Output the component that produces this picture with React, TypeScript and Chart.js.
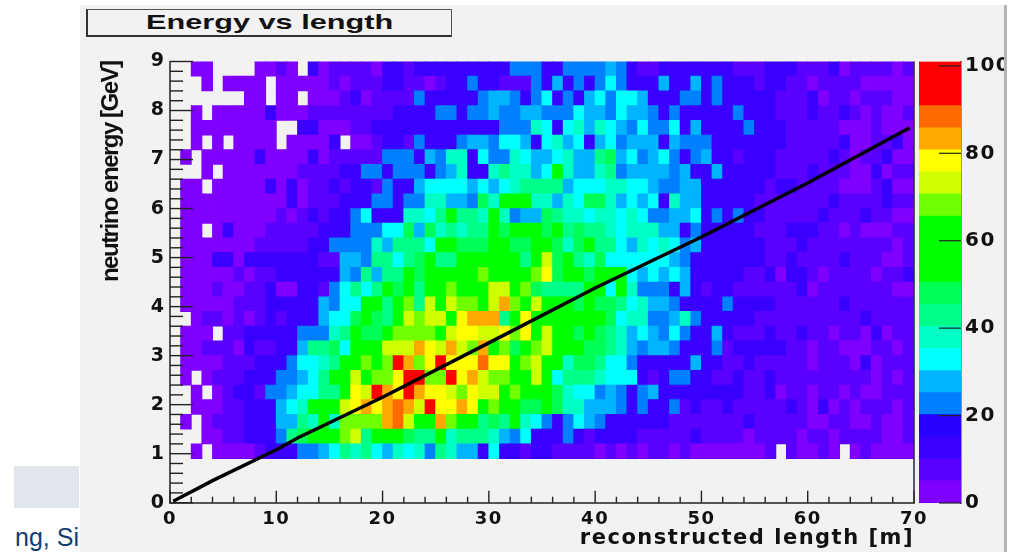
import React, { useEffect, useRef } from "react";
import { Chart, registerables } from "chart.js";

Chart.register(...registerables);

// Counts per energy bin, top row (8.7-9.0 GeV) first. 0 = empty cell. One value per 1 m length bin.
const row00 = [0,0,3,3,0,0,0,0,3,3, 7,3,0,12,3,7,7,7,7,3, 12,12,7,12,12,12,12,12,12,12, 12,12,22,22,22,12,12,22,22,22, 22,27,22,12,7,7,12,12,12,12, 12,12,12,7,7,7,12,12,12,7, 7,7,12,3,7,7,7,7,3,7];
const row01 = [0,0,0,3,0,3,3,3,3,0, 3,3,3,3,3,7,3,7,7,7, 12,12,7,7,3,7,12,12,22,12, 12,7,7,7,22,12,27,12,22,12, 22,32,22,12,12,12,27,12,12,27, 12,22,12,12,12,7,12,12,7,7, 3,7,7,7,7,3,3,3,3,3];
const row02 = [0,0,0,0,0,0,0,3,3,0, 3,3,0,3,3,3,7,12,3,7, 7,7,7,22,12,12,12,12,12,22, 27,27,22,12,22,32,12,22,12,27, 32,22,32,32,27,12,12,12,22,22, 12,22,12,12,12,12,12,7,7,7, 12,3,7,7,3,7,7,7,3,3];
const row03 = [0,0,3,0,3,3,3,3,3,12, 3,3,3,7,7,7,7,7,7,7, 7,12,12,12,12,22,22,12,22,22, 27,22,22,27,27,22,22,22,32,27, 27,22,32,27,27,22,12,22,12,12, 12,12,12,22,12,12,12,7,7,7, 12,7,7,12,7,3,7,3,3,7];
const row04 = [0,0,3,3,3,3,3,3,3,3, 0,0,12,12,3,3,3,7,7,12, 12,12,12,12,12,12,12,12,12,12, 12,22,22,22,37,32,12,32,37,27, 37,32,27,22,32,22,22,32,12,27, 12,12,12,12,22,12,12,12,7,7, 7,7,7,3,3,3,7,3,3,3];
const row05 = [0,0,3,0,3,0,3,3,3,3, 0,3,3,3,3,12,0,3,3,7, 12,12,7,22,12,12,12,22,27,27, 22,32,32,27,12,32,37,27,32,12, 27,32,22,27,27,27,12,27,22,22, 22,12,12,12,12,12,12,12,7,7, 7,7,7,12,3,3,7,7,12,3];
const row06 = [0,3,0,3,3,3,3,3,12,3, 3,3,3,12,3,7,7,7,7,7, 22,22,22,12,27,22,37,37,12,32, 22,22,37,32,27,27,32,37,27,27, 42,47,27,32,22,27,32,22,12,22, 27,12,12,7,12,12,12,7,7,7, 7,7,12,7,3,7,7,12,3,3];
const row07 = [0,0,0,3,0,3,3,3,3,3, 3,3,7,7,7,7,12,12,22,22, 12,22,22,22,12,22,27,37,12,12, 37,42,37,37,27,32,57,37,27,27, 37,42,22,27,27,27,27,22,27,12, 12,27,12,12,12,12,12,7,7,7, 12,7,7,7,3,3,12,3,7,7];
const row08 = [0,3,3,0,3,3,3,3,3,12, 3,12,3,7,7,12,7,12,12,7, 22,12,12,27,32,32,32,32,27,32, 27,32,37,42,42,42,42,27,32,32, 32,37,37,32,32,27,22,22,27,27, 12,12,12,12,12,12,7,12,12,7, 7,7,7,3,3,3,7,12,3,3];
const row09 = [0,3,3,3,3,3,3,3,3,3, 3,12,3,7,7,7,12,12,12,22, 22,12,22,22,37,37,27,27,22,47, 37,57,57,57,37,37,27,37,32,47, 47,37,27,32,27,32,12,37,27,27, 12,12,12,12,12,7,7,7,7,7, 7,7,12,7,7,7,7,12,7,7];
const row10 = [0,3,3,3,3,3,3,3,3,3, 7,3,7,12,7,12,12,22,32,12, 12,12,37,37,32,42,57,42,42,37, 57,37,22,27,27,47,42,37,37,32, 37,37,32,37,32,22,22,27,27,32, 12,22,12,22,12,12,7,7,7,7, 7,12,7,7,7,12,7,7,3,3];
const row11 = [0,3,3,0,3,12,3,3,3,7, 7,7,7,7,12,12,12,22,22,22, 32,32,47,27,47,37,42,37,42,42, 57,47,57,57,57,47,57,42,47,42, 42,37,32,37,37,37,27,27,12,22, 12,12,12,12,12,7,7,7,12,12, 12,7,7,3,7,3,3,3,7,7];
const row12 = [0,3,3,3,3,3,3,3,7,7, 7,7,7,12,12,22,22,22,22,37, 27,42,42,42,32,57,57,47,47,47, 57,57,47,47,57,57,47,37,47,57, 42,42,32,27,37,32,37,32,22,27, 12,12,12,12,12,12,7,7,7,12, 7,7,7,7,7,7,7,7,3,7];
const row13 = [0,3,3,3,12,12,3,12,12,12, 12,12,12,12,7,7,27,27,22,42, 42,32,42,47,57,42,42,57,57,57, 57,57,57,42,57,72,47,57,42,37, 47,32,32,32,32,32,32,27,22,12, 12,12,12,12,12,12,7,7,12,7, 7,7,7,12,7,7,7,3,3,7];
const row14 = [0,3,3,3,3,3,7,3,7,7, 12,12,12,12,12,12,27,22,42,27, 42,42,57,47,57,57,57,57,57,67, 57,57,57,57,67,77,47,57,57,47, 57,57,57,32,27,32,27,32,27,12, 12,12,12,12,7,7,12,3,12,12, 7,3,7,7,7,7,3,7,7,12];
const row15 = [0,3,3,3,7,3,3,7,7,12, 3,3,12,12,7,22,32,42,32,42, 57,47,57,42,57,57,67,57,57,57, 72,72,57,67,47,42,42,42,42,57, 57,32,57,37,22,22,22,12,27,12, 7,12,12,7,7,7,7,7,7,12, 3,7,7,7,7,7,7,7,3,3];
const row16 = [0,3,3,3,3,3,7,7,7,12, 12,12,12,12,27,22,32,32,57,57, 42,57,67,42,72,57,72,67,67,57, 72,82,67,57,72,57,57,57,47,57, 47,47,42,32,37,27,27,22,12,12, 12,12,22,12,12,12,12,7,7,7, 7,7,7,12,7,7,7,7,7,7];
const row17 = [0,0,3,7,7,3,7,3,7,12, 7,12,12,12,27,32,32,47,57,47, 42,57,72,67,72,72,57,77,82,82, 82,42,57,77,57,57,57,57,57,57, 57,47,32,37,37,22,22,27,37,22, 12,12,12,12,12,7,7,7,7,7, 7,7,7,7,7,12,7,7,7,7];
const row18 = [0,3,3,3,0,7,7,12,12,12, 12,12,22,22,22,37,42,57,47,47, 57,67,67,67,67,57,72,77,77,72, 72,77,67,77,57,72,57,57,47,57, 47,42,37,27,32,27,22,32,22,12, 12,27,12,7,7,7,12,7,7,12, 7,7,3,7,7,3,12,3,7,7];
const row19 = [0,3,3,7,7,7,3,12,7,7, 12,12,27,42,42,47,32,57,57,57, 72,72,72,82,77,72,82,72,67,82, 57,67,47,57,67,72,57,57,57,47, 47,42,37,27,22,27,27,22,12,12, 12,22,7,12,12,12,12,12,7,7, 3,7,7,3,3,3,7,7,3,7];
const row20 = [0,3,3,3,3,7,7,7,12,12, 12,22,32,32,37,42,57,57,67,57, 67,95,82,67,77,95,77,77,77,87, 77,77,57,67,72,57,57,37,47,47, 42,32,32,22,12,12,12,12,12,27, 12,12,7,7,12,7,7,7,7,7, 3,7,7,7,3,12,3,7,7,7];
const row21 = [0,3,0,3,7,7,7,12,12,12, 22,22,27,32,42,57,57,72,57,67, 67,77,95,95,67,67,95,77,82,72, 67,67,57,57,72,57,32,42,42,42, 37,32,32,32,12,7,12,22,22,12, 12,7,7,12,7,7,12,7,7,7, 7,7,7,7,7,7,3,7,3,7];
const row22 = [0,0,3,0,3,7,12,12,7,22, 22,27,32,32,42,42,57,77,72,95, 82,77,95,82,77,77,72,67,77,72, 72,57,67,57,57,57,47,37,32,32, 22,27,22,12,22,27,12,12,12,12, 12,12,12,12,7,7,12,3,7,7, 3,7,7,3,7,3,3,7,7,7];
const row23 = [0,0,3,3,3,7,7,12,12,12, 27,32,37,57,57,57,72,77,82,77, 82,87,82,72,95,77,77,82,77,57, 67,57,57,47,47,57,47,37,37,27, 27,27,22,12,22,12,12,22,7,12, 7,7,12,7,7,7,7,7,12,7, 3,12,3,7,3,7,7,7,3,7];
const row24 = [0,3,0,3,7,7,7,12,12,12, 27,27,42,37,57,37,67,67,67,67, 82,87,72,57,57,82,67,57,57,42, 47,42,57,37,32,22,12,22,32,27, 22,12,12,12,12,12,12,7,7,7, 7,7,7,7,12,7,7,7,7,7, 3,3,7,7,3,3,7,3,3,7];
const row25 = [0,0,0,3,3,7,7,12,12,12, 22,42,47,57,57,57,67,72,42,57, 57,57,47,42,42,57,37,42,42,42, 37,27,22,32,12,12,12,22,12,7, 12,12,12,12,7,7,7,7,7,12, 7,7,7,7,3,7,7,7,7,3, 7,7,3,7,7,7,7,3,3,7];
const row26 = [0,0,3,0,3,3,3,3,7,12, 12,12,22,22,27,32,42,37,42,32, 27,37,32,37,22,42,37,27,27,12, 32,12,12,7,12,12,7,7,7,7, 3,7,3,7,3,7,7,3,7,3, 3,3,3,3,3,3,7,0,7,3, 3,7,3,0,3,7,3,3,3,3];
const energyRows = [row00,row01,row02,row03,row04,row05,row06,row07,row08,row09,row10,row11,row12,row13,row14,row15,row16,row17,row18,row19,row20,row21,row22,row23,row24,row25,row26];

const fitLength = [0.3, 4.1, 10, 12, 20, 30, 40, 50, 60, 69.6];
const fitEnergy = [0.03, 0.46, 1.08, 1.32, 2.15, 3.26, 4.38, 5.42, 6.52, 7.65];

const paletteColors = ["#8000ff","#5a00ff","#3a00ff","#2800ff","#0080ff","#00b4ff","#00ffff","#00ffc4","#00ff88","#00ff55","#00ff00","#00ff00","#00ff00","#70ff00","#d0ff00","#ffff00","#ffa800","#ff6a00","#ff0000","#ff0000"];
const levelStep = 5.05;
const binEnergyHeight = 0.3;
const zTicks = [0, 20, 40, 60, 80, 100];

const DEJAVU = "'DejaVu Sans', sans-serif";

const noPad = (s: any) => { s.paddingLeft = 0; s.paddingRight = 0; s.paddingTop = 0; s.paddingBottom = 0; };

// The reference's text is stretched sideways: widen it with canvas letter spacing.
const spaced = (s: any, titlePx: number, labelPx: number) => {
  if (s.__spaced) return;
  s.__spaced = true;
  const wrap = (name: string, px: number) => {
    const orig = s[name];
    s[name] = function (...args: any[]) {
      const c = s.ctx;
      c.letterSpacing = px + "px";
      orig.apply(s, args);
      c.letterSpacing = "0px";
    };
  };
  wrap("drawTitle", titlePx);
  wrap("drawLabels", labelPx);
};

const rootTicks = {
  id: "rootTicks",
  afterDatasetsDraw(chart: any) {
    const { ctx, chartArea, scales } = chart;
    ctx.save();
    ctx.strokeStyle = "#222";
    ctx.lineWidth = 1.4;
    for (let i = 0; i <= 45; i++) {
      const y = scales.y.getPixelForValue(i * 0.2);
      const len = i % 5 === 0 ? 23 : 13;
      ctx.beginPath();
      ctx.moveTo(chartArea.left, y);
      ctx.lineTo(chartArea.left + len, y);
      ctx.stroke();
    }
    for (let i = 0; i <= 35; i++) {
      const x = scales.x.getPixelForValue(i * 2);
      const len = i % 5 === 0 ? 12 : 6;
      ctx.beginPath();
      ctx.moveTo(x, chartArea.bottom);
      ctx.lineTo(x, chartArea.bottom - len);
      ctx.stroke();
    }
    ctx.strokeStyle = "#333";
    ctx.lineWidth = 1.6;
    ctx.beginPath();
    ctx.moveTo(chartArea.right, chartArea.top);
    ctx.lineTo(chartArea.right, chartArea.bottom);
    ctx.stroke();
    ctx.restore();
  },
};

const zTicksPlugin = {
  id: "zTicksPlugin",
  afterDatasetsDraw(chart: any) {
    const { ctx, chartArea, scales } = chart;
    ctx.save();
    ctx.strokeStyle = "#222";
    ctx.lineWidth = 1.2;
    zTicks.forEach((t) => {
      const y = scales.y.getPixelForValue(t);
      ctx.beginPath();
      ctx.moveTo(chartArea.right, y);
      ctx.lineTo(chartArea.right - 22, y);
      ctx.stroke();
    });
    ctx.restore();
  },
};

export default function App() {
  const mainRef = useRef<HTMLCanvasElement>(null);
  const barRef = useRef<HTMLCanvasElement>(null);

  useEffect(() => {
    const cells: any[] = [];
    const colors: string[] = [];
    energyRows.forEach((row, r) => {
      const top = 9 - r * binEnergyHeight;
      row.forEach((v, c) => {
        if (v <= 0) return;
        cells.push({ x: c + 0.5, y: [top - binEnergyHeight, top] });
        colors.push(paletteColors[Math.min(19, Math.floor(v / levelStep))]);
      });
    });

    const main = new Chart(mainRef.current!, {
      type: "bar",
      data: {
        datasets: [
          {
            type: "line",
            label: "fit",
            data: fitLength.map((x, i) => ({ x, y: fitEnergy[i] })),
            borderColor: "#000",
            borderWidth: 3.5,
            pointRadius: 0,
            tension: 0,
            order: 0,
          } as any,
          {
            type: "bar",
            label: "Energy vs length",
            data: cells,
            backgroundColor: colors,
            barThickness: 10.7,
            borderWidth: 0,
            inflateAmount: 0.4,
            order: 1,
          } as any,
        ],
      },
      options: {
        responsive: false,
        animation: false,
        events: [],
        layout: { padding: { left: 80, top: 61.5, right: 97, bottom: 0 } },
        plugins: { legend: { display: false }, tooltip: { enabled: false }, title: { display: false } },
        scales: {
          x: {
            type: "linear",
            min: 0,
            max: 70,
            offset: false,
            grid: { display: false, offset: false, drawTicks: false },
            border: { display: true, color: "#555", width: 2 },
            ticks: { stepSize: 10, autoSkip: false, maxRotation: 0, color: "#111", font: { family: DEJAVU, weight: "bold", size: 18 }, padding: 6, includeBounds: false },
            title: {
              display: true,
              text: "reconstructed length [m]",
              align: "end",
              color: "#111",
              font: { family: DEJAVU, weight: "bold", size: 21 },
              padding: { top: 0, bottom: 1 },
            },
            afterFit: (s: any) => { s.height = 49.3; noPad(s); spaced(s, 1.5, 1.5); },
          },
          y: {
            type: "linear",
            min: 0,
            max: 9,
            grid: { display: false, drawTicks: false },
            border: { display: true, color: "#555", width: 2 },
            ticks: { stepSize: 1, autoSkip: false, color: "#111", font: { family: DEJAVU, weight: "bold", size: 19 }, padding: 6, includeBounds: false },
            title: {
              display: true,
              text: "neutrino energy [GeV]",
              align: "end",
              color: "#111",
              font: { family: "'Liberation Sans', sans-serif", weight: "bold", size: 24 },
              padding: { top: 17, bottom: 0 },
            },
            afterFit: (s: any) => { s.width = 90; noPad(s); spaced(s, -1.5, 0); },
          },
        },
      } as any,
      plugins: [rootTicks],
    });

    const bar = new Chart(barRef.current!, {
      type: "bar",
      data: {
        labels: ["z"],
        datasets: paletteColors.map((color, i) => ({
          data: [[i * levelStep, (i + 1) * levelStep]],
          backgroundColor: color,
          borderWidth: 0,
          grouped: false,
          barPercentage: 1,
          categoryPercentage: 1,
        })) as any,
      },
      options: {
        responsive: false,
        animation: false,
        events: [],
        layout: { padding: { left: 4, top: 61.5, right: 0, bottom: 49 } },
        plugins: { legend: { display: false }, tooltip: { enabled: false } },
        scales: {
          x: { display: false },
          y: {
            type: "linear",
            position: "right",
            min: 0,
            max: 101,
            grid: { display: false, drawTicks: false },
            border: { display: true, color: "#333", width: 1.5 },
            ticks: { stepSize: 20, autoSkip: false, color: "#111", font: { family: DEJAVU, weight: "bold", size: 20 }, padding: 4, includeBounds: false },
            afterFit: (s: any) => { s.width = 43; noPad(s); spaced(s, 0, 1.5); },
          },
        },
      } as any,
      plugins: [zTicksPlugin],
    });

    return () => {
      main.destroy();
      bar.destroy();
    };
  }, []);

  return (
    <div style={{ position: "absolute", left: 0, top: 0, width: 1011, height: 552, overflow: "hidden", background: "#fff" }}>
      <div style={{ position: "absolute", left: 14, top: 466, width: 65, height: 42, background: "#e1e5ec" }} />
      <div style={{ position: "absolute", left: 14, top: 521, width: 66, height: 31, overflow: "hidden" }}>
        <div style={{ position: "absolute", right: 1, top: 0, whiteSpace: "nowrap", font: "25px/32px 'Liberation Sans', sans-serif", color: "#123e6e" }}>ng, Si</div>
      </div>
      <div style={{ position: "absolute", left: 80, top: 5, width: 924, height: 547, background: "#f2f2f2", borderRight: "3px solid #b4b4b4" }} />
      <div
        style={{
          position: "absolute", left: 86, top: 9, width: 366, height: 28,
          borderTop: "1px solid #555", borderRight: "1px solid #555", borderLeft: "2px solid #333", borderBottom: "2px solid #333",
          boxSizing: "border-box", textAlign: "center",
          font: "bold 21px/23px 'Liberation Sans', sans-serif", color: "#111",
        }}
      >
        <span style={{ display: "inline-block", transform: "scaleX(1.46)" }}>Energy vs length</span>
      </div>
      <canvas ref={mainRef} width={1011} height={552} style={{ position: "absolute", left: 0, top: 0, width: 1011, height: 552 }} />
      <canvas ref={barRef} width={89} height={552} style={{ position: "absolute", left: 915, top: 0, width: 89, height: 552 }} />
    </div>
  );
}
